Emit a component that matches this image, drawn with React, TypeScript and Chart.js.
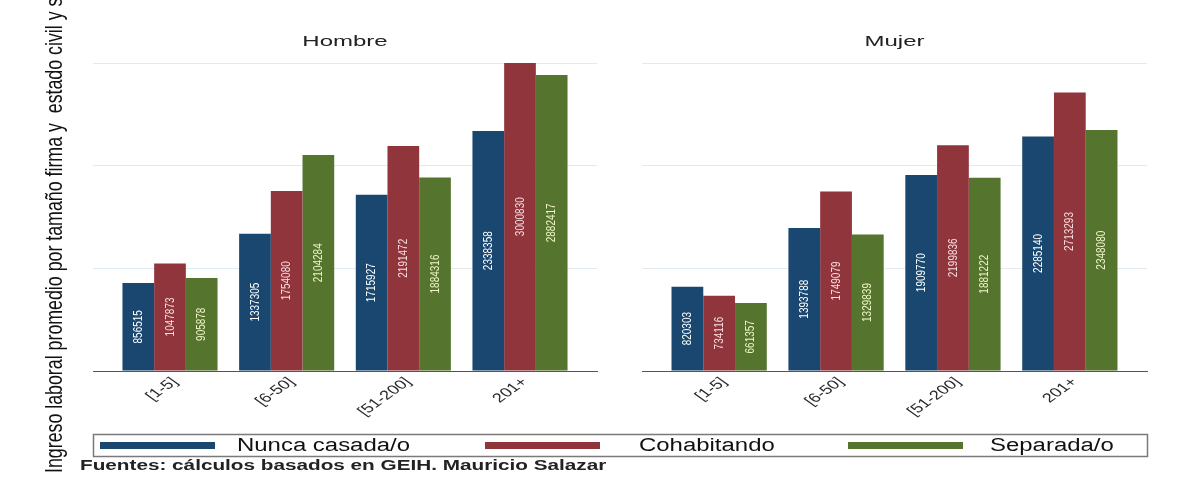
import React, { useEffect, useRef } from "react";
import { Chart, registerables } from "chart.js";

Chart.register(...registerables);

// ---- data ----
const categories = ["[1-5]", "[6-50]", "[51-200]", "201+"];
const seriesNames = ["Nunca casada/o", "Cohabitando", "Separada/o"];
const hombreNunca = [856515, 1337305, 1715927, 2338358];
const hombreCohab = [1047873, 1754080, 2191472, 3000830];
const hombreSep = [905878, 2104284, 1884316, 2882417];
const mujerNunca = [820303, 1393788, 1909770, 2285140];
const mujerCohab = [734116, 1749079, 2199836, 2713293];
const mujerSep = [661357, 1329839, 1881222, 2348080];
const panelTitles = ["Hombre", "Mujer"];
const yTitle = "Ingreso laboral promedio por tamaño firma y  estado civil y sexo";
const note = "Fuentes: cálculos basados en GEIH. Mauricio Salazar";
const yMax = 3000000;
const yStep = 1000000;

// ---- styles ----
const colors = ["#1a476f", "#90353b", "#55752f"];
const labelColors = ["#ffffff", "#f7dcdf", "#eef4c6"];
const FONT = "'Liberation Sans', Arial, sans-serif";
const SX = 1.4;

function stretchedText(
  ctx: CanvasRenderingContext2D,
  text: string,
  x: number,
  y: number,
  o: { font: string; color: string; align: CanvasTextAlign; baseline: CanvasTextBaseline; sx: number; rot?: number }
) {
  ctx.save();
  ctx.translate(x, y);
  ctx.scale(o.sx, 1);
  if (o.rot) ctx.rotate(o.rot);
  ctx.font = o.font;
  ctx.fillStyle = o.color;
  ctx.textAlign = o.align;
  ctx.textBaseline = o.baseline;
  ctx.fillText(text, 0, 0);
  ctx.restore();
}

function panelPlugin(title: string, withExtras: boolean) {
  return {
    id: "panelText" + title,
    afterDatasetsDraw(chart: any) {
      const ctx: CanvasRenderingContext2D = chart.ctx;
      const area = chart.chartArea;
      const xs = chart.scales.x;
      // panel title
      stretchedText(ctx, title, (area.left + area.right) / 2, area.top - 21, {
        font: `15px ${FONT}`,
        color: "#222",
        align: "center",
        baseline: "middle",
        sx: 1.6,
      });
      // value labels inside bars
      chart.data.datasets.forEach((ds: any, di: number) => {
        const meta = chart.getDatasetMeta(di);
        meta.data.forEach((bar: any, i: number) => {
          const v = ds.data[i].y;
          stretchedText(ctx, String(v), bar.x, (bar.y + bar.base) / 2, {
            font: `10px ${FONT}`,
            color: labelColors[di],
            align: "center",
            baseline: "middle",
            sx: 1.3,
            rot: -Math.PI / 2,
          });
        });
      });
      // x tick labels
      xs.ticks.forEach((t: any) => {
        const px = xs.getPixelForValue(t.value);
        stretchedText(ctx, categories[t.value], px + 5, area.bottom + 9, {
          font: `13px ${FONT}`,
          color: "#2a2a2a",
          align: "right",
          baseline: "middle",
          sx: SX,
          rot: -Math.PI / 4,
        });
      });
      if (!withExtras) return;
      // y title
      ctx.save();
      ctx.beginPath();
      ctx.rect(0, 0, chart.width, chart.height);
      ctx.clip();
      stretchedText(ctx, yTitle, 62, 473, {
        font: `17.8px ${FONT}`,
        color: "#111",
        align: "left",
        baseline: "alphabetic",
        sx: 1.34,
        rot: -Math.PI / 2,
      });
      ctx.restore();
      // legend box
      ctx.save();
      ctx.strokeStyle = "#7a7a7a";
      ctx.lineWidth = 1.5;
      ctx.strokeRect(93.5, 434.5, 1054, 22);
      ctx.restore();
      const swX = [100, 485, 848];
      const txX = [237, 639, 990];
      seriesNames.forEach((n, i) => {
        ctx.fillStyle = colors[i];
        ctx.fillRect(swX[i], 442, 115, 7);
        stretchedText(ctx, n, txX[i], 446, {
          font: `18px ${FONT}`,
          color: "#111",
          align: "left",
          baseline: "middle",
          sx: 1.33,
        });
      });
      // note
      stretchedText(ctx, note, 80, 470, {
        font: `bold 14px ${FONT}`,
        color: "#222",
        align: "left",
        baseline: "alphabetic",
        sx: 1.48,
      });
    },
  };
}

function makeConfig(title: string, sets: number[][], padLeft: number, padRight: number, extras: boolean): any {
  return {
    type: "bar",
    data: {
      datasets: sets.map((vals, i) => ({
        label: seriesNames[i],
        data: vals.map((v, j) => ({ x: j, y: v })),
        backgroundColor: colors[i],
        borderWidth: 0,
        barPercentage: 1,
        categoryPercentage: 0.815,
      })),
    },
    options: {
      responsive: false,
      animation: false,
      devicePixelRatio: 1,
      layout: { padding: { left: padLeft, right: padRight, top: 63, bottom: 46 } },
      plugins: { legend: { display: false }, title: { display: false }, tooltip: { enabled: false } },
      scales: {
        x: {
          type: "linear",
          min: -0.66,
          max: 3.66,
          offset: false,
          grid: { display: false, drawTicks: false },
          border: { display: true, color: "#555", width: 1 },
          ticks: { display: false, stepSize: 1 },
          afterBuildTicks: (s: any) => {
            s.ticks = categories.map((_, i) => ({ value: i }));
          },
          afterFit: (s: any) => {
            s.height = 60;
          },
        },
        y: {
          min: 0,
          max: yMax,
          ticks: { display: false, stepSize: yStep },
          grid: { color: "#e3eaef", drawTicks: false, lineWidth: 1 },
          border: { display: false },
          afterFit: (s: any) => {
            s.width = 0;
          },
        },
      },
    },
    plugins: [panelPlugin(title, extras)],
  };
}

export default function App() {
  const hRef = useRef<HTMLCanvasElement>(null);
  const mRef = useRef<HTMLCanvasElement>(null);
  useEffect(() => {
    const h = new Chart(hRef.current!, makeConfig(panelTitles[0], [hombreNunca, hombreCohab, hombreSep], 93, 580, true));
    const m = new Chart(mRef.current!, makeConfig(panelTitles[1], [mujerNunca, mujerCohab, mujerSep], 642, 30, false));
    return () => {
      h.destroy();
      m.destroy();
    };
  }, []);
  return (
    <div style={{ position: "fixed", left: 0, top: 0, width: 1177, height: 477, background: "#fff", overflow: "hidden" }}>
      <canvas ref={hRef} width={1177} height={477} style={{ position: "absolute", left: 0, top: 0 }} />
      <canvas ref={mRef} width={1177} height={477} style={{ position: "absolute", left: 0, top: 0 }} />
    </div>
  );
}
